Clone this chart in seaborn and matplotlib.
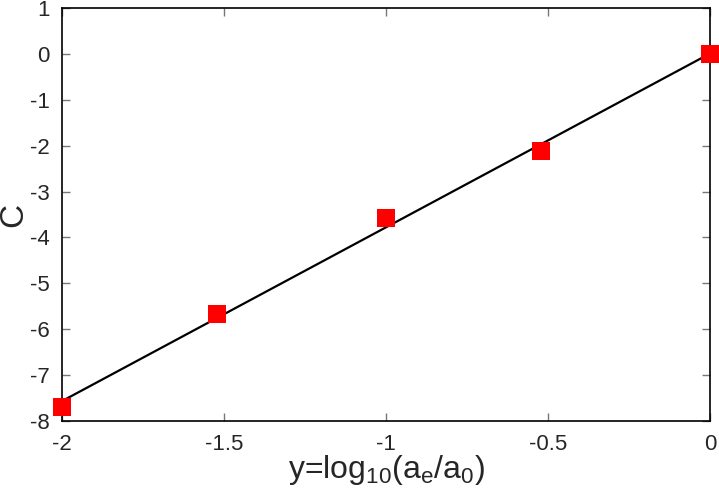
import numpy as np
import pandas as pd
import matplotlib
matplotlib.use('Agg')
import matplotlib.pyplot as plt
import seaborn as sns

# data
y_log = [-2.0, -1.523, -1.0, -0.523, 0.0]
c_vals = [-7.69, -5.675, -3.584, -2.12, 0.0]
x_ticks = [-2, -1.5, -1, -0.5, 0]
y_ticks = [-8, -7, -6, -5, -4, -3, -2, -1, 0, 1]

df = pd.DataFrame({'y': y_log, 'C': c_vals})

sns.set_style('ticks')
plt.rcParams['font.family'] = ['Liberation Sans', 'DejaVu Sans']
plt.rcParams['mathtext.fontset'] = 'custom'
plt.rcParams['mathtext.rm'] = 'Liberation Sans'

fig, ax = plt.subplots(figsize=(7.19, 4.92), dpi=100)
fig.subplots_adjust(left=0.0862, right=0.9875, top=0.9837, bottom=0.1443)

sns.regplot(data=df, x='y', y='C', ci=None, ax=ax, truncate=True,
            marker='s',
            scatter_kws={'color': '#ff0000', 's': 150, 'alpha': 1, 'linewidths': 0,
                         'zorder': 3, 'clip_on': False},
            line_kws={'color': 'black', 'lw': 1.6, 'zorder': 2})

ax.set_xlim(-2, 0)
ax.set_ylim(-8, 1)
ax.set_xticks(x_ticks)
ax.set_xticklabels(['-2', '-1.5', '-1', '-0.5', '0'])
ax.set_yticks(y_ticks)
ax.set_yticklabels([str(v) for v in y_ticks])
ax.tick_params(direction='in', length=6, width=1, color='#777777',
               top=True, right=True, labelsize=16, pad=9)
for s in ax.spines.values():
    s.set_color('black')
    s.set_linewidth(1.2)

ax.set_xlabel(r'y=log$_{\mathrm{10}}$(a$_{\mathrm{e}}$/a$_{\mathrm{0}}$)', fontsize=23, labelpad=-1)
ax.set_ylabel('C', fontsize=24, labelpad=0)

fig.savefig('out.png', dpi=100)
